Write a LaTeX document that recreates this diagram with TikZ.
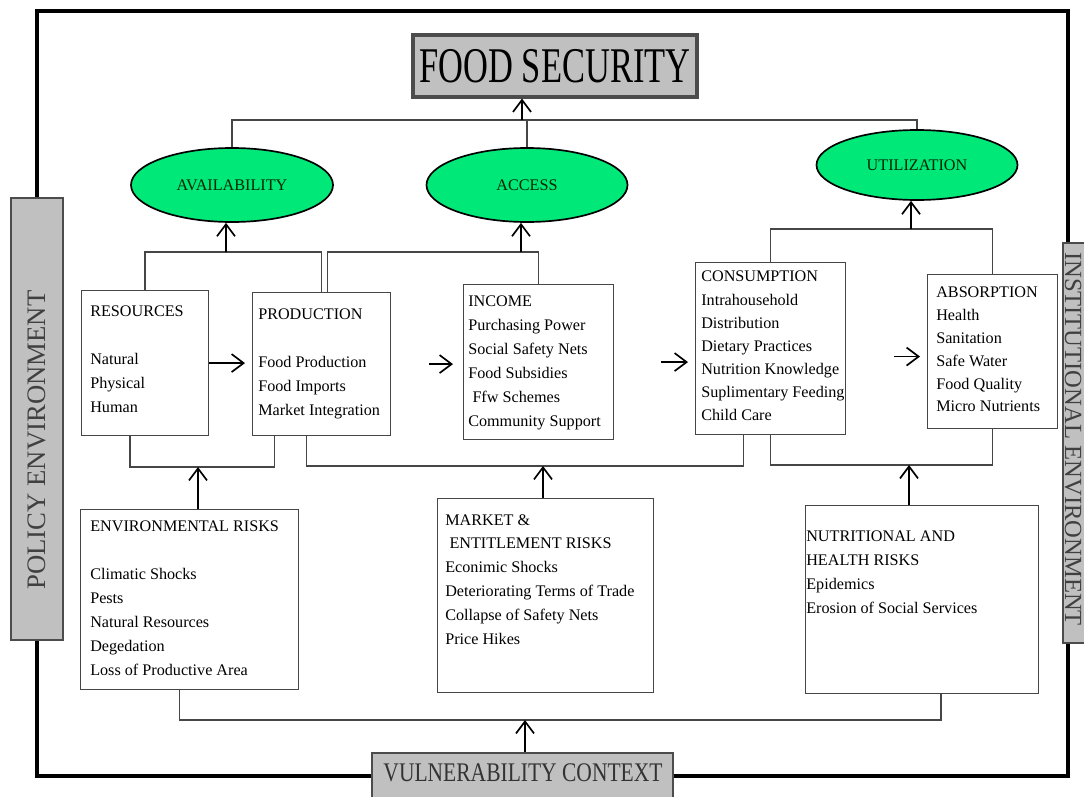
\documentclass[tikz,border=0pt]{standalone}
\usepackage{graphicx}
\usepackage{fontspec}
\setmainfont{Liberation Serif}
\usetikzlibrary{shapes.geometric,arrows.meta}
\definecolor{boxgray}{RGB}{192,192,192}
\definecolor{ellgreen}{RGB}{0,232,120}
\definecolor{linegray}{RGB}{70,70,70}

\begin{document}
\begin{tikzpicture}[x=0.025cm,y=-0.025cm,>={Straight Barb[length=3mm,width=4.5mm]},
  wh/.style 2 args={minimum width=#1*0.025cm,minimum height=#2*0.025cm},
  box/.style={draw=linegray,line width=0.8pt,inner sep=0pt,anchor=north west},
  txt/.style={anchor=north west,align=left,inner sep=0pt,font=\fontsize{11.5}{17}\selectfont},
  ell/.style={ellipse,draw=black,line width=1.2pt,fill=ellgreen,inner sep=0pt,font=\fontsize{11.5}{12}\selectfont,text=black!85!green},
  gbox/.style={draw=black!70,line width=1pt,fill=boxgray,inner sep=0pt},
  side/.style={font=\fontsize{19}{19}\selectfont,text=black!75,inner sep=0pt},
  conn/.style={draw=linegray,line width=1.1pt},
  arr/.style={->,line width=1.2pt},
  outerframe/.style={line width=2.8pt,line join=miter}]
	\useasboundingbox (0,0) rectangle (1084,796);
	\clip (0,0) rectangle (1084,796);
	\fill[white] (0,0) rectangle (1084,796);
	\node[gbox,wh={52}{442}] (pol) at (37,419) {};
	\node[side,rotate=90] (pol-t) at (37,440) {POLICY ENVIRONMENT};
	\node[gbox,wh={26}{400}] (inst) at (1076,443) {};
	\node[side,rotate=-90,font=\fontsize{17.5}{18}\selectfont] (inst-t) at (1073,439) {INSTITUTIONAL ENVIRONMENT};
	\node[gbox,wh={301}{60}] (vul) at (522.5,783) {};
	\node[font=\fontsize{15.3}{16}\selectfont,text=black!80] (vul-t) at (523,773) {\scalebox{1}[1.25]{VULNERABILITY CONTEXT}};
	\coordinate (fr-tr) at (1068,11);
	\coordinate (fr-br) at (1068,776);
	\draw[outerframe] (pol.north) |- (fr-tr) -- (fr-tr |- inst.north);
	\draw[outerframe] (fr-tr |- inst.south) -- (fr-br) -- (fr-br -| vul.east);
	\draw[outerframe] (vul.west |- fr-br) -| (pol.south);
	\node[gbox,line width=2.2pt,wh={284}{62}] (fs) at (555,66) {\scalebox{1}[1.45]{\fontsize{24.5}{25}\selectfont FOOD SECURITY}};
	\node[ell,wh={202}{74}] (avail) at (232,185) {AVAILABILITY};
	\node[ell,wh={201}{74}] (access) at (527,185) {ACCESS};
	\node[ell,wh={201}{70}] (util) at (917,165) {UTILIZATION};
	\node[box,wh={127}{145}] (res) at (81,290) {};
	\node[box,wh={138}{143}] (prod) at (252,292) {};
	\node[box,wh={150}{155}] (inc) at (463,284) {};
	\node[box,wh={150}{172}] (cons) at (695,262) {};
	\node[box,wh={130}{154}] (abs) at (927,274) {};
	\node[box,wh={218}{180}] (envr) at (80,509) {};
	\node[box,wh={216}{194}] (mktr) at (437,498) {};
	\node[box,wh={233}{188}] (nutr) at (805,505) {};
	\node[txt] (res-t) at (90,306) {RESOURCES\\[17pt]Natural\\Physical\\Human};
	\node[txt] (prod-t) at (258,309) {PRODUCTION\\[17pt]Food Production\\Food Imports\\Market Integration};
	\node[txt] (inc-t) at (468,296) {INCOME\\Purchasing Power\\Social Safety Nets\\Food Subsidies\\\hspace*{3pt}Ffw Schemes\\Community Support};
	\node[txt,font=\fontsize{11.5}{16.4}\selectfont] (cons-t) at (701,271) {CONSUMPTION\\Intrahousehold\\Distribution\\Dietary Practices\\Nutrition Knowledge\\Suplimentary Feeding\\Child Care};
	\node[txt,font=\fontsize{11.5}{16.2}\selectfont] (abs-t) at (936,287) {ABSORPTION\\Health\\Sanitation\\Safe Water\\Food Quality\\Micro Nutrients};
	\node[txt] (envr-t) at (90,521) {ENVIRONMENTAL RISKS\\[17pt]Climatic Shocks\\Pests\\Natural Resources\\Degedation\\Loss of Productive Area};
	\node[txt] (mktr-t) at (445,514) {MARKET \&\\\hspace*{3pt}ENTITLEMENT RISKS\\Econimic Shocks\\Deteriorating Terms of Trade\\Collapse of Safety Nets\\Price Hikes};
	\node[txt] (nutr-t) at (806,531) {NUTRITIONAL AND\\HEALTH RISKS\\Epidemics\\Erosion of Social Services};
	\coordinate (fsbus) at (522,120);
	\draw[conn] (avail.north) |- (fsbus) -| (util.north);
	\draw[conn] (access.north) -- (access.north |- fsbus);
	\draw[arr] (fsbus) -- (fsbus |- fs.south);
	\coordinate (avbus) at (226,252);
	\draw[conn] (res.north) |- (avbus) -| (prod.north);
	\draw[arr] (avbus) -- (avbus |- avail.south);
	\coordinate (acbus) at (521,252);
	\draw[conn] ([xshift=0.15cm]prod.north) |- (acbus) -| (inc.north);
	\draw[arr] (acbus) -- (acbus |- access.south);
	\coordinate (utbus) at (911,229);
	\draw[conn] (cons.north) |- (utbus) -| (abs.north);
	\draw[arr] (utbus) -- (utbus |- util.south);
	\coordinate (envbus) at (198,467);
	\draw[conn] ([xshift=-0.375cm]res.south) |- (envbus) -| ([xshift=-1.175cm]prod.south);
	\draw[arr] (envbus |- envr.north) -- (envbus);
	\coordinate (mktbus) at (543,466);
	\draw[conn] ([xshift=-0.375cm]prod.south) |- (mktbus) -| ([xshift=-0.675cm]cons.south);
	\draw[arr] (mktbus |- mktr.north) -- (mktbus);
	\coordinate (nutbus) at (909,465);
	\draw[conn] (cons.south) |- (nutbus) -| (abs.south);
	\draw[arr] (nutbus |- nutr.north) -- (nutbus);
	\coordinate (vulbus) at (525,720);
	\draw[conn] ([xshift=-0.25cm]envr.south) |- (vulbus) -| ([xshift=0.475cm]nutr.south);
	\draw[arr] (vulbus |- vul.north) -- (vulbus);
	\draw[arr,shorten >=0.175cm] (res.east) -- (res.east -| prod.west);
	\draw[arr,shorten <=0.95cm,shorten >=0.25cm] (prod.east) -- (prod.east -| inc.west);
	\draw[arr,shorten <=1.175cm,shorten >=0.175cm] (inc.east) -- (inc.east -| cons.west);
	\draw[arr,shorten <=1.2cm,shorten >=0.175cm] ([yshift=-0.125cm]abs.west -| cons.east) -- ([yshift=-0.125cm]abs.west);
\end{tikzpicture}
\end{document}
